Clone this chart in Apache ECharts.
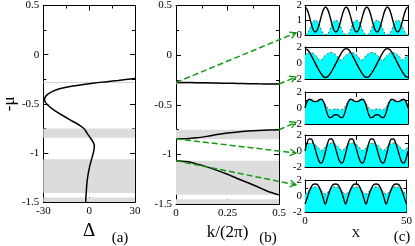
<!DOCTYPE html>
<html><head><meta charset="utf-8">
<script src="https://cdn.jsdelivr.net/npm/echarts@6/dist/echarts.min.js"></script>
<style>html,body{margin:0;padding:0;background:#fff}#c{width:415px;height:246px}</style>
</head><body><div id="c"></div>
<script>
const FONT = '"Liberation Serif", "DejaVu Serif", serif';

// ---- panel (a): Delta vs -mu ----
const deltaCurve = [[30,-0.243],[19,-0.262],[7,-0.282],[-8,-0.313],[-20,-0.350],[-26.8,-0.400],[-29.2,-0.455],[-27.6,-0.505],[-22,-0.575],[-12.2,-0.665],[-4,-0.744],[-1,-0.808],[2.5,-0.888],[3.4,-0.93],[3.0,-0.98],[1.9,-1.047],[0.3,-1.14],[-1.2,-1.27],[-1.9,-1.40],[-2.3,-1.5]];
const gapBands = [[-0.751,-0.846],[-1.063,-1.407],[-1.452,-1.5]];
const thinLevel = -0.285;

// ---- panel (b): bands vs k/(2pi) ----
const kValues = [0,0.05,0.1,0.15,0.2,0.25,0.3,0.35,0.4,0.45,0.5];
const bandTop = [-0.275,-0.276,-0.277,-0.279,-0.281,-0.283,-0.285,-0.287,-0.289,-0.290,-0.291];
const bandMid = [-0.843,-0.841,-0.833,-0.818,-0.800,-0.785,-0.773,-0.765,-0.759,-0.754,-0.751];
const bandLow = [-1.063,-1.072,-1.095,-1.125,-1.160,-1.200,-1.245,-1.285,-1.330,-1.375,-1.407];

// ---- panel (c): profiles ----
const xs = [0,1,2,3,4,5,6,7,8,9,10,11,12,13,14,15,16,17,18,19,20,21,22,23,24,25,26,27,28,29,30,31,32,33,34,35,36,37,38,39,40,41,42,43,44,45,46,47,48,49,50];
const black1 = [1.9,1.74,1.31,0.79,0.36,0.2,0.36,0.79,1.31,1.74,1.9,1.74,1.31,0.79,0.36,0.2,0.36,0.79,1.31,1.74,1.9,1.74,1.31,0.79,0.36,0.2,0.36,0.79,1.31,1.74,1.9,1.74,1.31,0.79,0.36,0.2,0.36,0.79,1.31,1.74,1.9,1.74,1.31,0.79,0.36,0.2,0.36,0.79,1.31,1.74,1.9];
const cyan1 = [0.02,0.08,0.33,0.68,0.93,1.0,0.93,0.68,0.33,0.08,0.02,0.08,0.33,0.68,0.93,1.0,0.93,0.68,0.33,0.08,0.02,0.08,0.33,0.68,0.93,1.0,0.93,0.68,0.33,0.08,0.02,0.08,0.33,0.68,0.93,1.0,0.93,0.68,0.33,0.08,0.02,0.08,0.33,0.68,0.93,1.0,0.93,0.68,0.33,0.08,0.02];
const black2 = [1.8,1.7,1.4,0.95,0.45,-0.05,-0.55,-1.0,-1.4,-1.7,-1.8,-1.7,-1.4,-1.0,-0.55,-0.05,0.45,0.95,1.4,1.7,1.8,1.7,1.4,0.95,0.45,-0.05,-0.55,-1.0,-1.4,-1.7,-1.8,-1.7,-1.4,-1.0,-0.55,-0.05,0.45,0.95,1.4,1.7,1.8,1.7,1.4,0.95,0.45,-0.05,-0.55,-1.0,-1.4,-1.7,-1.8];
const cyan2 = [1.0,1.2,1.3,1.3,1.2,1.0,0.75,0.4,0.4,0.75,1.0,1.2,1.3,1.3,1.2,1.0,0.75,0.4,0.4,0.75,1.0,1.2,1.3,1.3,1.2,1.0,0.75,0.4,0.4,0.75,1.0,1.2,1.3,1.3,1.2,1.0,0.75,0.4,0.4,0.75,1.0,1.2,1.3,1.3,1.2,1.0,0.75,0.4,0.4,0.75,1.0];
const black3 = [0.0,0.8,1.1,1.05,0.85,0.8,0.85,1.05,1.1,0.8,0.0,-0.85,-1.2,-1.15,-0.9,-0.85,-0.9,-1.15,-1.2,-0.85,0.0,0.8,1.1,1.05,0.85,0.8,0.85,1.05,1.1,0.8,0.0,-0.85,-1.2,-1.15,-0.9,-0.85,-0.9,-1.15,-1.2,-0.85,0.0,0.8,1.1,1.05,0.85,0.8,0.85,1.05,1.1,0.8,0.0];
const cyan3 = [0.4,0.8,1.0,0.95,0.85,0.8,0.85,0.95,1.0,0.8,0.4,0.0,-0.2,-0.25,-0.15,-0.1,-0.15,-0.25,-0.2,0.0,0.4,0.8,1.0,0.95,0.85,0.8,0.85,0.95,1.0,0.8,0.4,0.0,-0.2,-0.25,-0.15,-0.1,-0.15,-0.25,-0.2,0.0,0.4,0.8,1.0,0.95,0.85,0.8,0.85,0.95,1.0,0.8,0.4];
const black4 = [0.0,1.0,1.5,1.5,1.0,0.2,-0.7,-1.35,-1.5,-1.0,0.0,1.0,1.5,1.5,1.0,0.2,-0.7,-1.35,-1.5,-1.0,0.0,1.0,1.5,1.5,1.0,0.2,-0.7,-1.35,-1.5,-1.0,0.0,1.0,1.5,1.5,1.0,0.2,-0.7,-1.35,-1.5,-1.0,0.0,1.0,1.5,1.5,1.0,0.2,-0.7,-1.35,-1.5,-1.0,0.0];
const cyan4 = [0.55,0.8,0.95,1.0,0.95,0.8,0.55,0.25,0.05,0.25,0.55,0.8,0.95,1.0,0.95,0.8,0.55,0.25,0.05,0.25,0.55,0.8,0.95,1.0,0.95,0.8,0.55,0.25,0.05,0.25,0.55,0.8,0.95,1.0,0.95,0.8,0.55,0.25,0.05,0.25,0.55,0.8,0.95,1.0,0.95,0.8,0.55,0.25,0.05,0.25,0.55];
const black5 = [-1.0,-0.3,0.5,1.1,1.45,1.5,1.45,1.1,0.5,-0.3,-1.0,-0.3,0.5,1.1,1.45,1.5,1.45,1.1,0.5,-0.3,-1.0,-0.3,0.5,1.1,1.45,1.5,1.45,1.1,0.5,-0.3,-1.0,-0.3,0.5,1.1,1.45,1.5,1.45,1.1,0.5,-0.3,-1.0,-0.3,0.5,1.1,1.45,1.5,1.45,1.1,0.5,-0.3,-1.0];
const cyan5 = [0.25,0.4,0.7,0.95,1.1,1.15,1.1,0.95,0.7,0.4,0.25,0.4,0.7,0.95,1.1,1.15,1.1,0.95,0.7,0.4,0.25,0.4,0.7,0.95,1.1,1.15,1.1,0.95,0.7,0.4,0.25,0.4,0.7,0.95,1.1,1.15,1.1,0.95,0.7,0.4,0.25,0.4,0.7,0.95,1.1,1.15,1.1,0.95,0.7,0.4,0.25];
const profiles = [[black1,cyan1],[black2,cyan2],[black3,cyan3],[black4,cyan4],[black5,cyan5]];

// arrows: start (k, -mu) in panel b, target value on each small plot's y scale
const arrowFromK = [0,0.5,0.5,0,0];
const arrowFromMu = [-0.275,-0.291,-0.751,-0.843,-1.063];
const arrowToValue = [0.15,-1.75,-1.8,-0.25,1.4];

const chart = echarts.init(document.getElementById('c'), null, {renderer:'canvas'});

const grids = [
  {left:33, top:5, width:102, height:209},
  {left:176, top:5, width:103, height:209},
  {left:305, top:5, width:103, height:30},
  {left:305, top:47, width:103, height:32},
  {left:305, top:92, width:103, height:32},
  {left:305, top:135, width:103, height:32},
  {left:305, top:180, width:103, height:32}
];

function baseAxis(gi, pos, o){
  return Object.assign({
    type:'value', gridIndex:gi, position:pos, scale:false,
    axisLine:{show:true, onZero:false, lineStyle:{color:'#000', width:1}},
    axisTick:{show:true, inside:true, length:5, lineStyle:{color:'#000', width:1}},
    minorTick:{show:false},
    splitLine:{show:false},
    axisLabel:{show:false, fontFamily:FONT, fontSize:11, color:'#000', margin:4}
  }, o);
}
const xAxes = [], yAxes = [];
function addPair(gi, xo, yo, xLab, yLab){
  xAxes.push(baseAxis(gi,'bottom', Object.assign({}, xo, xLab||{})));
  xAxes.push(baseAxis(gi,'top', Object.assign({}, xo)));
  yAxes.push(baseAxis(gi,'left', Object.assign({}, yo, yLab||{})));
  yAxes.push(baseAxis(gi,'right', Object.assign({}, yo)));
}
const minor2 = {show:true, splitNumber:2, length:3, lineStyle:{color:'#000'}};
const muAxis = {min:-1.5, max:0.5, interval:0.5, minorTick:minor2};
// panel a
addPair(0, {min:-30, max:30, interval:30, minorTick:minor2}, muAxis,
  {axisLabel:{show:true, fontFamily:FONT, fontSize:11, color:'#000', margin:4},
   name:'Δ', nameLocation:'middle', nameGap:18, nameTextStyle:{fontFamily:FONT, fontSize:19, color:'#000'}},
  {axisLabel:{show:true, fontFamily:FONT, fontSize:11, color:'#000', margin:4},
   name:'-μ', nameLocation:'middle', nameRotate:90, nameGap:25, nameTextStyle:{fontFamily:FONT, fontSize:17, color:'#000'}});
// panel b
addPair(1, {min:0, max:0.5, interval:0.25, minorTick:minor2}, muAxis,
  {axisLabel:{show:true, fontFamily:FONT, fontSize:11, color:'#000', margin:4},
   name:'k/(2π)', nameLocation:'middle', nameGap:17, nameTextStyle:{fontFamily:FONT, fontSize:17, color:'#000'}},
  {axisLabel:{show:true, fontFamily:FONT, fontSize:11, color:'#000', margin:4}});
// panel c
for (let i=0;i<5;i++){
  const yo = i===0 ? {min:0, max:2, interval:1} : {min:-2, max:2, interval:2, minorTick:minor2};
  const xLab = i===4 ? {axisLabel:{show:true, fontFamily:FONT, fontSize:11, color:'#000', margin:4, formatter:v=> v===25?'':String(v)},
     name:'X', nameLocation:'middle', nameGap:4, nameTextStyle:{fontFamily:FONT, fontSize:12, color:'#000'}} : null;
  addPair(2+i, {min:0, max:50, interval:25}, yo, xLab,
    {axisLabel:{show:true, fontFamily:FONT, fontSize:11, color:'#000', margin:3}});
}

const bandAreas = gapBands.map(b => [{yAxis:b[0]},{yAxis:b[1]}]);
const series = [];
function decor(){
  return {
    markArea:{silent:true, itemStyle:{color:'#dcdcdc'}, data:bandAreas},
    markLine:{silent:true, symbol:'none', label:{show:false}, lineStyle:{color:'#d4d4d4', width:1, type:'solid'}, data:[{yAxis:thinLevel}]}
  };
}
series.push(Object.assign({type:'line', xAxisIndex:0, yAxisIndex:0, data:deltaCurve, smooth:0.4, symbol:'none',
  lineStyle:{color:'#000', width:1.5}, z:5}, decor()));
[bandTop, bandMid, bandLow].forEach((arr, j) => {
  const s = {type:'line', xAxisIndex:2, yAxisIndex:2, data:kValues.map((k,i)=>[k,arr[i]]), smooth:0.3, symbol:'none',
    lineStyle:{color:'#000', width:1.5}, z:5};
  if (j===0) Object.assign(s, decor());
  series.push(s);
});
profiles.forEach((p, i) => {
  const ax = 4 + 2*i;
  series.push({type:'line', xAxisIndex:ax, yAxisIndex:ax, data:xs.map((x,j)=>[x,p[1][j]]), smooth:0.4, symbol:'none',
    lineStyle:{color:'#444', width:0.8, type:[2,2]}, areaStyle:{color:'#00ffff', opacity:1, origin:'start'}, z:2});
  series.push({type:'line', xAxisIndex:ax, yAxisIndex:ax, data:xs.map((x,j)=>[x,p[0][j]]), smooth:0.4, symbol:'none',
    lineStyle:{color:'#000', width:1.4}, z:4});
});

chart.setOption({
  animation:false, backgroundColor:'#fff',
  grid:grids.map(g=>Object.assign({containLabel:false}, g)),
  xAxis:xAxes, yAxis:yAxes, series:series
});

// annotations: arrows and panel tags
const gfx = [];
const GREEN = '#129a12';
for (let i=0;i<5;i++){
  const p0 = chart.convertToPixel({xAxisIndex:2, yAxisIndex:2}, [arrowFromK[i], arrowFromMu[i]]);
  const pc = chart.convertToPixel({xAxisIndex:4+2*i, yAxisIndex:4+2*i}, [0, arrowToValue[i]]);
  const p1 = [pc[0]-9, pc[1]];
  const a = Math.atan2(p1[1]-p0[1], p1[0]-p0[0]);
  const L = 7, w = 0.5;
  const h1 = [p1[0]-L*Math.cos(a-w), p1[1]-L*Math.sin(a-w)];
  const h2 = [p1[0]-L*Math.cos(a+w), p1[1]-L*Math.sin(a+w)];
  gfx.push({type:'line', z:50, shape:{x1:p0[0], y1:p0[1], x2:p1[0], y2:p1[1]}, style:{stroke:GREEN, lineWidth:1.5, lineDash:[6,3]}});
  gfx.push({type:'polyline', z:50, shape:{points:[h1,p1,h2]}, style:{stroke:GREEN, lineWidth:1.3, fill:null}});
}
[['(a)',120,238],['(b)',268,238],['(c)',402,237]].forEach(t=>{
  gfx.push({type:'text', x:t[1], y:t[2], z:50, style:{text:t[0], font:'15px '+FONT, fill:'#000', align:'center', verticalAlign:'middle', textAlign:'center', textVerticalAlign:'middle'}});
});
chart.setOption({graphic:gfx});
</script>
</body></html>
